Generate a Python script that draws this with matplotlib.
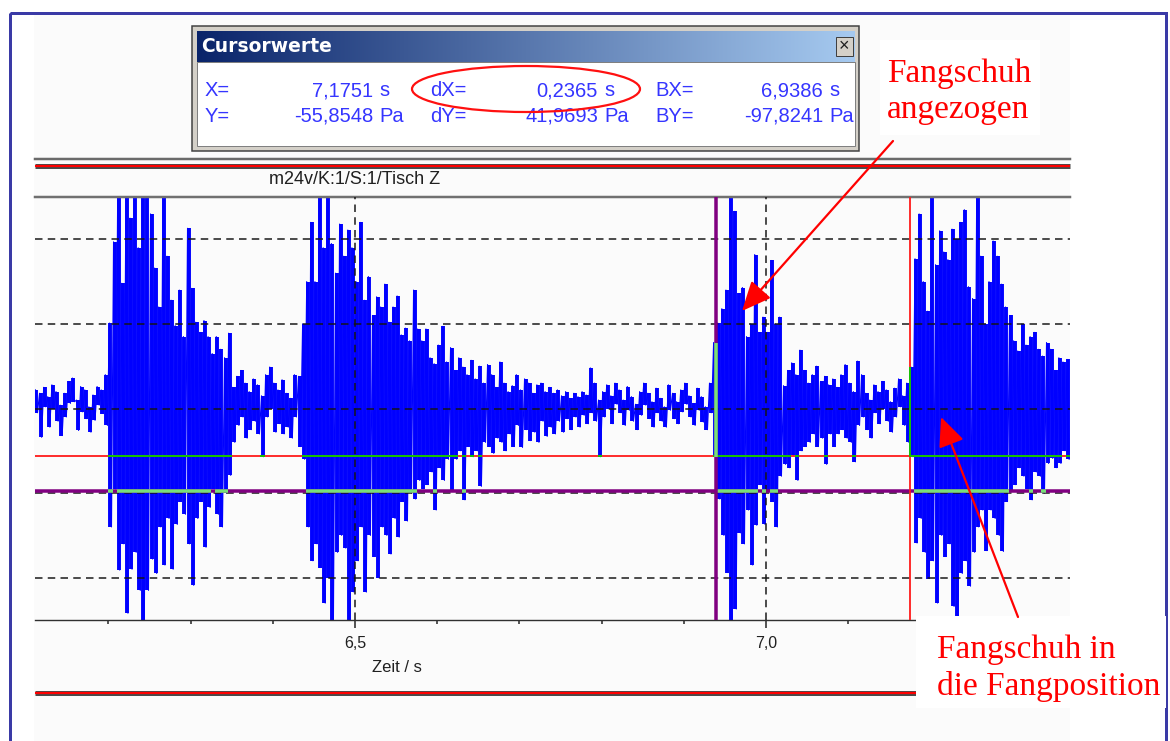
import numpy as np
import matplotlib
matplotlib.use('Agg')
import matplotlib.pyplot as plt
from matplotlib.patches import Rectangle, Ellipse

plt.rcParams['font.family'] = ['Liberation Sans', 'DejaVu Sans']

# Tisch Z pressure trace: min / max per 5 ms bin, in Pa
T0 = 6.1125
DT = 0.005
sig_hi = [
    22, 18, 25, 14, 28, 20, 4, 18, 32, 36,
    10, 26, 22, 2, 16, 26, 22, 40, 101, 197,
    250, 148, 250, 225, 250, 190, 250, 250, 230, 166,
    120, 250, 180, 128, 98, 140, 85, 213, 142, 102,
    90, 104, 85, 65, 85, 70, 60, 89, 25, 38,
    45, 30, 20, 35, 28, 15, 40, 49, 30, 22,
    34, 18, 12, 40, 38, 100, 150, 220, 150, 250,
    190, 250, 195, 160, 218, 180, 211, 190, 150, 220,
    128, 156, 110, 132, 120, 147, 102, 120, 133, 87,
    95, 80, 140, 94, 80, 94, 60, 53, 75, 97,
    55, 72, 45, 60, 49, 40, 57, 35, 50, 30,
    52, 40, 25, 55, 30, 20, 27, 40, 22, 35,
    30, 18, 28, 30, 20, 25, 18, 22, 15, 20,
    12, 18, 14, 20, 16, 48, 30, 10, 20, 28,
    15, 30, 22, 10, 26, 14, 5, 20, 30, 18,
    8, 24, 12, 2, 28, 18, 8, 22, 30, 15,
    6, 24, 14, 2, 30, 78, 101, 118, 140, 250,
    233, 136, 143, 85, 100, 182, 90, 108, 90, 175,
    100, 108, 27, 45, 54, 40, 69, 45, 30, 40,
    50, 32, 38, 28, 35, 25, 40, 52, 30, 20,
    56, 40, 18, 10, 28, 20, 32, 22, 8, 24,
    35, 15, 30, 49, 177, 230, 150, 115, 250, 170,
    210, 185, 176, 212, 200, 220, 235, 144, 130, 250,
    180, 100, 150, 198, 180, 147, 120, 110, 80, 68,
    100, 75, 85, 90, 70, 62, 78, 70, 45, 60,
    55, 58,
]
sig_lo = [
    -5, -34, 2, -22, 0, -15, -32, -10, 6, 8,
    -26, -4, -12, -28, -14, 4, -6, -20, -140, -95,
    -191, -160, -242, -190, -170, -215, -250, -215, -178, -195,
    -140, -185, -130, -190, -137, -110, -125, -160, -209, -130,
    -110, -164, -117, -95, -125, -140, -100, -79, -40, -20,
    -10, -35, -25, -15, -30, -57, -10, 0, -28, -18,
    -30, -22, -35, -10, -45, -60, -140, -180, -160, -188,
    -230, -200, -250, -170, -150, -165, -250, -217, -180, -140,
    -217, -150, -175, -200, -140, -150, -172, -130, -152, -110,
    -133, -100, -107, -85, -95, -90, -75, -120, -70, -85,
    -60, -97, -60, -50, -108, -45, -57, -50, -92, -40,
    -45, -53, -35, -40, -50, -30, -45, -20, -46, -25,
    -38, -28, -40, -15, -33, -22, -30, -15, -28, -12,
    -25, -10, -22, -8, -18, -5, -15, -57, -10, 0,
    -18, 5, -5, -20, -2, -15, -25, -8, 4, -12,
    -22, -5, -15, -22, -2, -12, -18, -4, 5, -10,
    -20, -2, -16, -25, -5, -57, -107, -150, -194, -250,
    -237, -147, -160, -120, -185, -138, -90, -137, -97, -110,
    -140, -80, -66, -70, -55, -85, -50, -45, -40, -30,
    -45, -35, -66, -30, -45, -30, -25, -35, -40, -63,
    -20, -10, -25, -35, -5, -18, 0, -15, -28, -10,
    2, -20, -40, -57, -159, -130, -170, -201, -180, -230,
    -150, -175, -160, -234, -250, -195, -180, -210, -170, -140,
    -120, -168, -120, -130, -150, -169, -110, -97, -90, -70,
    -80, -95, -108, -75, -80, -100, -65, -59, -70, -65,
    -50, -60,
]

# cursor positions (X/Y = cursor, BX/BY = reference cursor)
cur_x, cur_y = 7.1751, -55.8548
ref_x, ref_y = 6.9386, -97.8241

major_ticks = [6.5, 7.0]
minor_ticks = [6.2, 6.3, 6.4, 6.6, 6.7, 6.8, 6.9, 7.1, 7.2, 7.3]
grid_y = [-200, -100, 0, 100, 200]
channel = "m24v/K:1/S:1/Tisch Z"

W, H = 1170, 741
PX = 0.72  # points per pixel at dpi 100


def de(v):
    return f"{v:.4f}".replace('.', ',')


fig = plt.figure(figsize=(W / 100, H / 100), dpi=100)
fig.patch.set_facecolor('white')

# pixel-space layers below and above the plot
bg = fig.add_axes([0, 0, 1, 1], zorder=0)
ov = fig.add_axes([0, 0, 1, 1], zorder=2)
for a in (bg, ov):
    a.set_xlim(0, W)
    a.set_ylim(H, 0)
    a.axis('off')
    a.patch.set_alpha(0)

bg.add_patch(Rectangle((34, 13), 1036, 740, fc='#fbfbfb', ec='none'))
bg.add_patch(Rectangle((10, 13), 1156, 740, fc='none', ec='#3a3aa6', lw=3 * PX))

# plot area
ax = fig.add_axes([35 / W, 1 - 620 / H, 1035 / W, 423 / H], zorder=1)
ax.set_facecolor('none')
ax.set_xlim(6.1107, 7.3698)
ax.set_ylim(-250, 250)

t = T0 + DT * np.arange(len(sig_hi))
hi = np.array(sig_hi, dtype=float)
lo = np.array(sig_lo, dtype=float)
# min/max bars per bin plus the zig-zag between them
ax.vlines(t, lo, hi, color='#0000ff', lw=3.9 * PX, zorder=2, capstyle='butt')
tt = np.column_stack([t - DT / 4, t + DT / 4]).ravel()
yy = np.column_stack([hi, lo]).ravel()
ax.plot(tt, yy, color='#0000ff', lw=1.1 * PX, zorder=2)

for g in grid_y:
    ax.axhline(g, color='#151515', lw=1.5 * PX, dashes=(5, 3.5), zorder=3)
for g in major_ticks:
    ax.axvline(g, color='#151515', lw=1.5 * PX, dashes=(5, 3.5), zorder=3)

# horizontal cursor lines, drawn green where they cross the trace
ax.axhline(cur_y, color='#ff1a1a', lw=1.8 * PX, zorder=4)
m = (lo <= cur_y) & (hi >= cur_y)
ax.hlines(np.full(m.sum(), cur_y), t[m] - DT / 2, t[m] + DT / 2,
          color='#00d000', lw=1.8 * PX, zorder=4)
ax.axhline(ref_y, color='#800080', lw=3.5 * PX, zorder=4)
m = (lo <= ref_y) & (hi >= ref_y)
ax.hlines(np.full(m.sum(), ref_y), t[m] - DT / 2, t[m] + DT / 2,
          color='#78e078', lw=3.5 * PX, zorder=4)

# vertical cursor lines
ax.axvline(ref_x, color='#800080', lw=3.5 * PX, zorder=4)
k = int(round((ref_x - T0) / DT))
ax.vlines(ref_x, lo[k], hi[k], color='#78e078', lw=3.5 * PX, zorder=4)
ax.axvline(cur_x, color='#ff1a1a', lw=1.8 * PX, zorder=4)
k = int(round((cur_x - T0) / DT))
ax.vlines(cur_x, lo[k], hi[k], color='#00d000', lw=1.8 * PX, zorder=4)

for s in ('left', 'right'):
    ax.spines[s].set_visible(False)
ax.spines['top'].set_color('#707070')
ax.spines['top'].set_linewidth(2.5 * PX)
ax.spines['bottom'].set_color('#303030')
ax.spines['bottom'].set_linewidth(1.4 * PX)
ax.set_yticks([])
ax.set_xticks(major_ticks)
ax.set_xticklabels([f"{v:.1f}".replace('.', ',') for v in major_ticks])
ax.set_xticks(minor_ticks, minor=True)
ax.tick_params(axis='x', which='major', direction='out', length=8 * PX,
               width=1.5 * PX, color='#202020', pad=8 * PX,
               labelsize=11.5, labelcolor='#202020')
ax.tick_params(axis='x', which='minor', direction='out', length=4 * PX,
               width=1.5 * PX, color='#202020')

# frame lines above and below the plot
ov.plot([35, 1070], [159, 159], color='#6a6a6a', lw=2.5 * PX)
for y in (166, 693):
    ov.plot([35, 1070], [y, y], color='#4a4a4a', lw=5 * PX, solid_capstyle='butt')
    ov.plot([35, 1070], [y, y], color='#ff0000', lw=2.2 * PX, solid_capstyle='butt')
ov.text(355, 180, channel, ha='center', va='center', fontsize=13, color='#202020')
ov.text(372, 667, "Zeit / s", ha='left', va='center', fontsize=12, color='#202020')

# cursor value window
ov.add_patch(Rectangle((192, 26), 667, 125, fc='#d4d0c8', ec='#404040', lw=1.5 * PX))
ov.add_patch(Rectangle((197, 62), 658, 84, fc='white', ec='#808080', lw=1 * PX))
c1 = np.array([10, 36, 106]) / 255
c2 = np.array([166, 202, 240]) / 255
g = np.linspace(0, 1, 256)[:, None]
grad = ((1 - g) * c1 + g * c2)[None, :, :]
ov.imshow(grad, extent=(197, 855, 62, 31), aspect='auto', interpolation='bilinear', zorder=2)
ov.set_xlim(0, W)
ov.set_ylim(H, 0)
ov.text(201, 47, "Cursorwerte", ha='left', va='center', fontsize=13.5,
        fontweight='bold', color='white', family='DejaVu Sans', zorder=3)
ov.add_patch(Rectangle((836, 37), 17, 19, fc='#d4d0c8', ec='#404040', lw=1 * PX, zorder=3))
ov.text(844.5, 46.5, "\u00d7", ha='center', va='center', fontsize=13, color='#202020', zorder=4)

names = [["X=", "dX=", "BX="], ["Y=", "dY=", "BY="]]
values = [[cur_x, cur_x - ref_x, ref_x], [cur_y, cur_y - ref_y, ref_y]]
units = ["s", "Pa"]
col_x = [205, 430, 655]
num_right = [373, 598, 823]
for r, row_y in enumerate([91, 116]):
    for c in range(3):
        ov.text(col_x[c], row_y, names[r][c], ha='left', va='center',
                fontsize=14.5, color='#3535ff', zorder=3)
        ov.text(num_right[c], row_y, de(values[r][c]), ha='right', va='center',
                fontsize=14.5, color='#3535ff', zorder=3)
        ov.text(num_right[c] + 6, row_y, units[r], ha='left', va='center',
                fontsize=14.5, color='#3535ff', zorder=3)
ov.add_patch(Ellipse((526, 89), 228, 46, fill=False, ec='#ff1010', lw=1.6, zorder=5))

# annotations
ov.add_patch(Rectangle((880, 40), 160, 95, fc='white', ec='none', zorder=1))
ov.add_patch(Rectangle((916, 616), 250, 92, fc='white', ec='none', zorder=3))
for txt, (x, y) in zip(["Fangschuh", "angezogen"], [(887, 82), (887, 118)]):
    ov.text(x, y, txt, ha='left', va='baseline', fontsize=24, color='#ff0000',
            family='Liberation Serif', zorder=4)
for txt, (x, y) in zip(["Fangschuh in", "die Fangposition"], [(937, 658), (937, 695)]):
    ov.text(x, y, txt, ha='left', va='baseline', fontsize=24, color='#ff0000',
            family='Liberation Serif', zorder=4)
arrow = dict(arrowstyle='-|>,head_length=0.9,head_width=0.4', color='#ff0000',
             lw=1.6, mutation_scale=20, shrinkA=0, shrinkB=0)
ov.annotate('', xy=(742, 311), xytext=(893, 141), arrowprops=arrow, zorder=5)
ov.annotate('', xy=(941, 417), xytext=(1018, 617), arrowprops=arrow, zorder=5)

fig.savefig('out.png', dpi=100)
